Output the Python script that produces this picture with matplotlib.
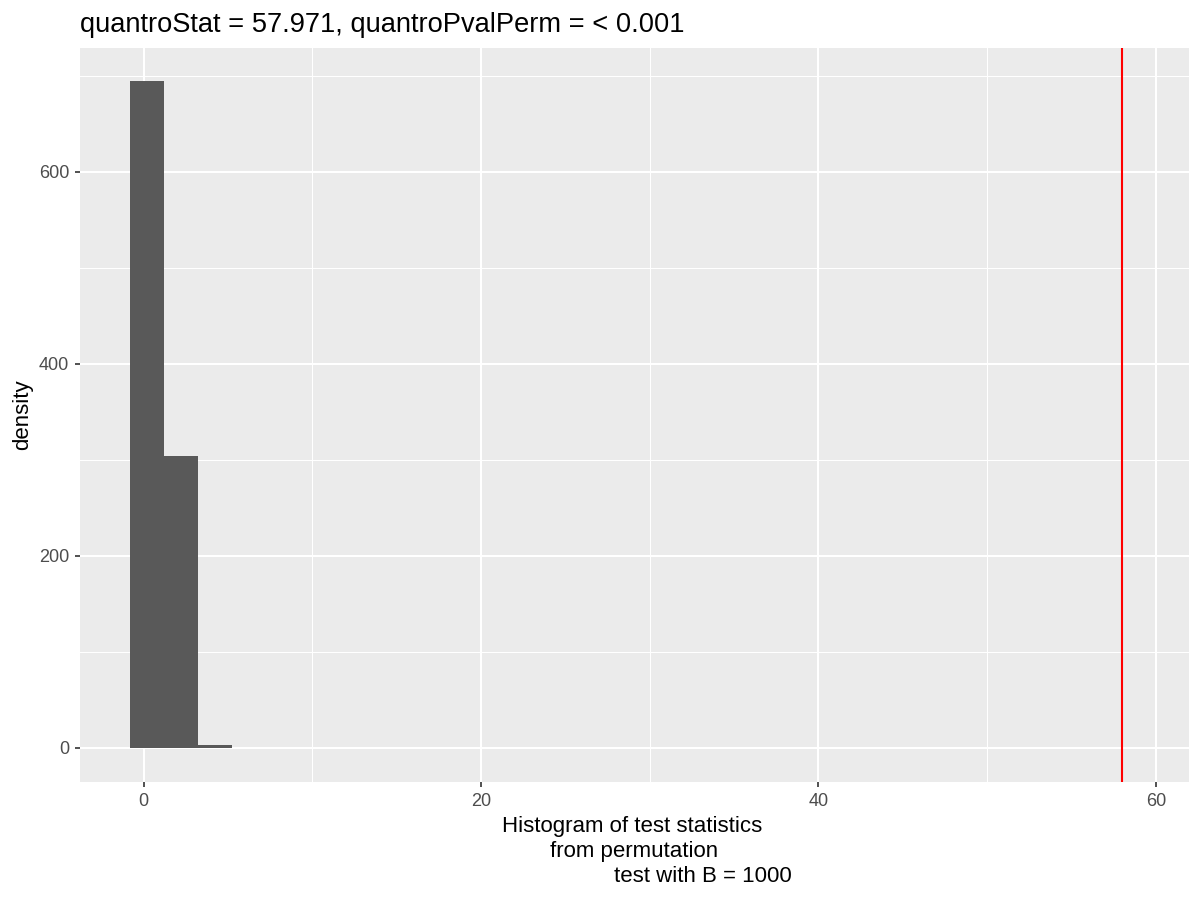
import matplotlib
matplotlib.use('Agg')
import matplotlib.pyplot as plt
import numpy as np

plt.rcParams['font.family'] = ['Liberation Sans', 'DejaVu Sans']

# histogram of permutation test statistics (counts)
bin_edges = [-0.79, 1.20, 3.21, 5.23]
counts = [694, 304, 3]
quantro_stat = 57.971
title = "quantroStat = 57.971, quantroPvalPerm = < 0.001"
x_major = [0, 20, 40, 60]
x_minor = [10, 30, 50]
y_major = [0, 200, 400, 600]
y_minor = [100, 300, 500, 700]
xlabel_lines = ["Histogram of test statistics", "from permutation", "test with B = 1000"]

W, H = 1200, 900
fig = plt.figure(figsize=(12, 9), dpi=100)
ax = fig.add_axes([80/W, 1-781.7/H, (1188.7-80)/W, (781.7-48)/H])

ax.set_facecolor('#EBEBEB')
for s in ax.spines.values():
    s.set_visible(False)

ax.set_xticks(x_major)
ax.set_xticks(x_minor, minor=True)
ax.set_yticks(y_major)
ax.set_yticks(y_minor, minor=True)
ax.grid(which='major', color='white', linewidth=1.5)
ax.grid(which='minor', color='white', linewidth=0.75)
ax.set_axisbelow(True)
ax.tick_params(which='major', length=3.3, width=1.2, color='#333333',
               labelcolor='#4D4D4D', labelsize=13, pad=4.5)
ax.tick_params(which='minor', length=0)

ax.hist(bin_edges[:-1], bins=bin_edges, weights=counts, color='#595959')
ax.axvline(quantro_stat, color='red', linewidth=1.5)

ax.set_xlim(-3.78, 61.95)
ax.set_ylim(-35.1, 728.8)

fig.text(80/W, 1-31.7/H, title, fontsize=19.6, ha='left', va='baseline')
fig.text(12/W, 1-415/H, "density", fontsize=16, rotation=90, ha='left', va='center')

centers = [632, 634, 703]
baselines = [832.3, 856.8, 881.7]
for line, cx, by in zip(xlabel_lines, centers, baselines):
    fig.text(cx/W, 1-by/H, line, fontsize=16, ha='center', va='baseline')

fig.savefig('out.png', dpi=100)
